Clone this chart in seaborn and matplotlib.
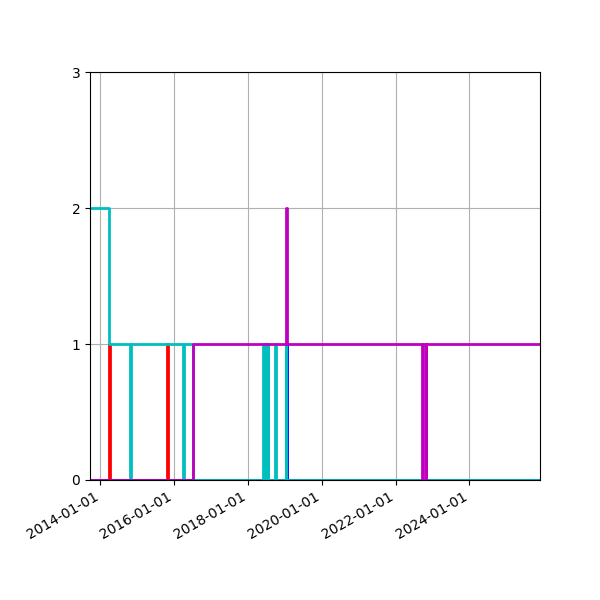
import pandas as pd
import matplotlib
matplotlib.use("Agg")
import matplotlib.pyplot as plt
import matplotlib.dates as mdates
import seaborn as sns

# step series: (date, value) change points, drawn with steps-post
red_dates = ['2013-09-20', '2014-04-01', '2014-04-05', '2015-10-25', '2015-10-29', '2025-12-01']
red_vals = [0, 1, 0, 1, 0, 0]

blue_dates = ['2013-09-20', '2019-01-14', '2019-01-18', '2025-12-01']
blue_vals = [0, 1, 0, 0]

cyan_dates = ['2013-10-02', '2014-04-01', '2014-10-25', '2014-10-30', '2016-04-01',
              '2016-04-06', '2016-07-01',
              '2018-06-01', '2018-06-08', '2018-06-18', '2018-06-25', '2018-07-14', '2018-07-21',
              '2018-09-26', '2018-10-02', '2019-01-10', '2019-01-15', '2025-12-01']
cyan_vals = [2, 1, 0, 1, 0, 1, 0,
             1, 0, 1, 0, 1, 0,
             1, 0, 1, 0, 0]

magenta_dates = ['2013-09-20', '2016-07-01', '2019-01-12', '2019-01-22', '2022-09-22',
                 '2022-09-28', '2022-10-28', '2022-11-03', '2025-12-01']
magenta_vals = [0, 1, 2, 1, 0, 1, 0, 1, 1]

series = [(red_dates, red_vals, 'r'), (blue_dates, blue_vals, 'b'),
          (cyan_dates, cyan_vals, 'c'), (magenta_dates, magenta_vals, 'm')]

fig, ax = plt.subplots(figsize=(6, 6), dpi=100)
for dates, vals, color in series:
    df = pd.DataFrame({'date': pd.to_datetime(dates), 'value': vals})
    sns.lineplot(data=df, x='date', y='value', ax=ax, color=color,
                 drawstyle='steps-post', linewidth=2, estimator=None)

ax.set_xlim(pd.Timestamp('2013-09-20'), pd.Timestamp('2025-12-01'))
ax.set_ylim(0, 3)
ax.set_yticks([0, 1, 2, 3])
ax.xaxis.set_major_locator(mdates.YearLocator(2))
ax.xaxis.set_major_formatter(mdates.DateFormatter('%Y-%m-%d'))
ax.set_xlabel('')
ax.set_ylabel('')
ax.grid(True)
fig.autofmt_xdate()
plt.subplots_adjust(left=0.15, right=0.9, top=0.88, bottom=0.2)
plt.savefig('out.png')
